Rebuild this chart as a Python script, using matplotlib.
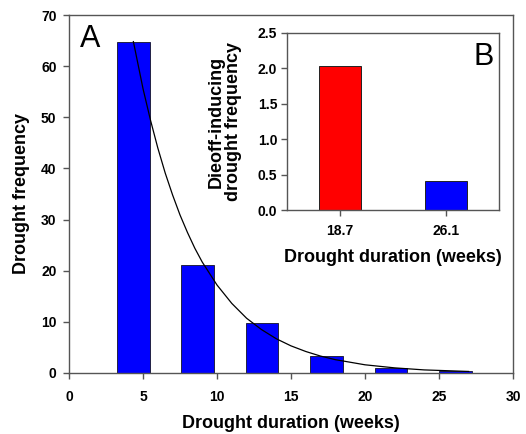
import matplotlib.pyplot as plt

plt.rcParams['font.family'] = ['Liberation Sans', 'DejaVu Sans']

# main histogram: drought durations (weeks) and frequencies
duration = [4.35, 8.7, 13.05, 17.4, 21.75, 26.1]
frequency = [64.8, 21.1, 9.8, 3.3, 0.9, 0.4]

# fitted curve
curve_x = [4.35, 5, 5.5, 6, 6.5, 7, 7.5, 8, 8.5, 9, 10, 11, 12, 13, 14, 15,
           16, 17, 18, 19, 20, 21, 22, 23, 24, 25, 26, 27]
curve_y = [64.8, 55.6, 49.5, 44.0, 39.1, 34.8, 30.9, 27.5, 24.4, 21.7, 17.2,
           13.6, 10.7, 8.5, 6.7, 5.3, 4.2, 3.3, 2.6, 2.1, 1.6, 1.3, 1.0, 0.8,
           0.6, 0.5, 0.4, 0.3]

# inset: dieoff-inducing drought frequency
inset_labels = ['18.7', '26.1']
inset_values = [2.03, 0.41]
inset_colors = ['#ff0000', '#0000ff']

spine_col = '#555555'

fig = plt.figure(figsize=(5.26, 4.34), dpi=100)
ax = fig.add_axes([0.1312, 0.1406, 0.9753 - 0.1312, 0.9654 - 0.1406])

ax.bar(duration, frequency, width=2.2, color='#0000ff', edgecolor='#222244',
       linewidth=0.7, zorder=2)
ax.plot(curve_x, curve_y, color='black', linewidth=0.9, zorder=3)

ax.set_xlim(0, 30)
ax.set_ylim(0, 70)
ax.set_xticks([0, 5, 10, 15, 20, 25, 30])
ax.set_yticks([0, 10, 20, 30, 40, 50, 60, 70])
ax.set_xlabel('Drought duration (weeks)', fontsize=13, fontweight='bold',
              labelpad=8.5)
ax.set_ylabel('Drought frequency', fontsize=13, fontweight='bold', labelpad=8)
for s in ax.spines.values():
    s.set_color(spine_col)
    s.set_linewidth(1.0)
ax.tick_params(direction='out', length=4, width=1.0, color=spine_col,
               labelsize=10, pad=5)
ax.tick_params(axis='x', pad=8)
for lab in ax.get_xticklabels() + ax.get_yticklabels():
    lab.set_fontweight('bold')
ax.text(0.025, 0.975, 'A', transform=ax.transAxes, fontsize=22,
        ha='left', va='top')

# inset
ins = fig.add_axes([0.5456, 0.5161, 0.9487 - 0.5456, 0.924 - 0.5161])
ins.bar([0, 1], inset_values, width=0.4, color=inset_colors,
        edgecolor='#222222', linewidth=0.7)
ins.set_xlim(-0.5, 1.5)
ins.set_ylim(0, 2.5)
ins.set_xticks([0, 1])
ins.set_xticklabels(inset_labels)
ins.set_yticks([0.0, 0.5, 1.0, 1.5, 2.0, 2.5])
ins.set_yticklabels(['0.0', '0.5', '1.0', '1.5', '2.0', '2.5'])
ins.set_xlabel('Drought duration (weeks)', fontsize=13, fontweight='bold',
               labelpad=8)
ins.set_ylabel('Dieoff-inducing\ndrought frequency', fontsize=13,
               fontweight='bold', labelpad=11, linespacing=1.05)
for s in ins.spines.values():
    s.set_color(spine_col)
    s.set_linewidth(1.0)
ins.tick_params(direction='out', length=4, width=1.0, color=spine_col,
                labelsize=10, pad=3)
ins.tick_params(axis='x', pad=6)
for lab in ins.get_xticklabels() + ins.get_yticklabels():
    lab.set_fontweight('bold')
ins.text(0.975, 0.95, 'B', transform=ins.transAxes, fontsize=22,
         ha='right', va='top')

fig.savefig('out.png', dpi=100)
